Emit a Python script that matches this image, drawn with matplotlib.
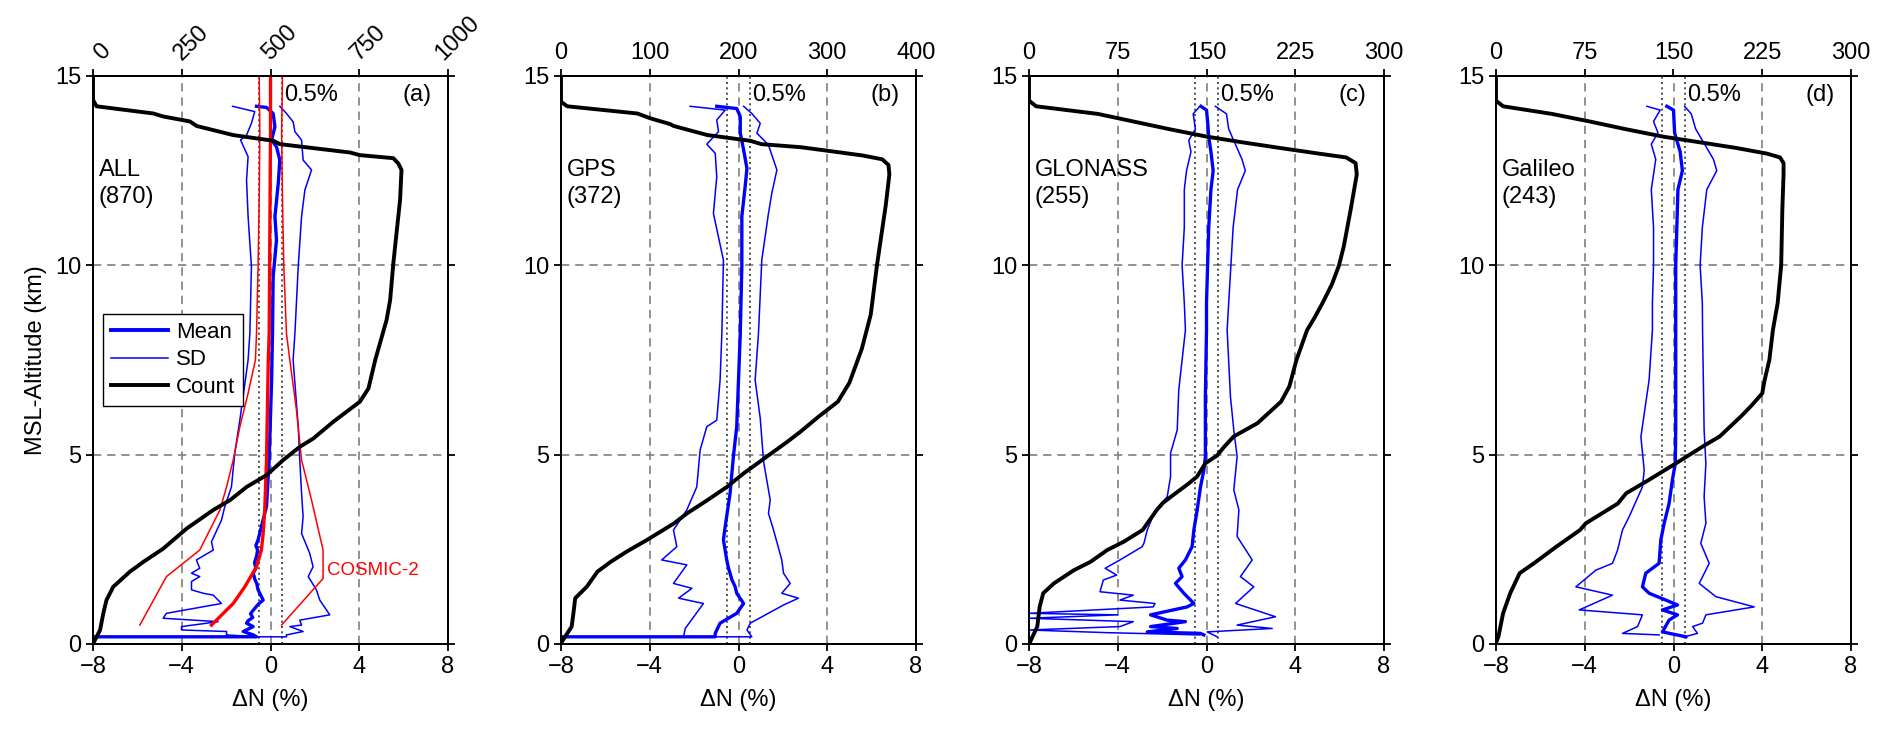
import numpy as np
import matplotlib
matplotlib.use('Agg')
import matplotlib.pyplot as plt
from matplotlib.lines import Line2D
from matplotlib.transforms import ScaledTranslation

plt.rcParams['font.family'] = ['Liberation Sans', 'DejaVu Sans']

# Perfiles: pares (altitud km, valor)
# valor = dN (%) para Mean/SD/COSMIC-2, numero de perfiles para Count

a_count = [(15, 0), (14.37, 0), (14.2, 10), (14.01, 170), (13.93, 198), (13.8, 273), (13.68, 292),
           (13.44, 395), (13.29, 508), (13.2, 527), (12.98, 724), (12.91, 752), (12.83, 846),
           (12.69, 860), (12.52, 869), (11.73, 865), (10.85, 855), (10.05, 846), (9.08, 837),
           (8.56, 827), (7.5, 795), (6.75, 776), (6.40, 752), (5.87, 677), (5.43, 621), (5.21, 583),
           (4.86, 536), (4.46, 489), (4.15, 433), (3.80, 386), (3.54, 339), (3.05, 264), (2.52, 198),
           (2.17, 142), (1.91, 104), (1.51, 57), (1.16, 38), (0.81, 29), (0.37, 20), (0.06, 3)]
a_mean = [(14.2, -0.63), (14.17, -0.18), (14.01, 0.12), (13.66, 0.2), (13.31, 0.05), (13.13, 0.27),
          (12.78, 0.42), (12.17, 0.35), (11.29, 0.2), (10.67, 0.27), (9.70, 0.12), (8.2, 0.09),
          (6.97, 0.05), (4.86, -0.06), (3.63, -0.18), (3.10, -0.41), (2.75, -0.56), (2.6, -0.66),
          (2.48, -0.58), (2.31, -0.63), (2.15, -0.72), (2.0, -0.66), (1.87, -0.78), (1.7, -0.7),
          (1.6, -0.62), (1.43, -0.56), (1.3, -0.45), (1.16, -0.33), (1.05, -0.55), (0.94, -0.71),
          (0.8, -0.9), (0.7, -0.8), (0.62, -1.0), (0.55, -1.08), (0.46, -0.78), (0.33, -1.23),
          (0.24, -0.78), (0.19, -0.63), (0.19, -8.0)]
a_sd_lo = [(14.2, -1.71), (14.06, -0.71), (13.75, -0.86), (13.44, -1.08), (13.31, -1.35), (12.87, -1.01),
           (12.25, -1.08), (11.29, -1.01), (9.97, -0.86), (8.2, -0.93), (7.5, -1.01), (5.92, -1.38),
           (5.04, -1.61), (4.15, -1.76), (3.63, -2.06), (3.27, -2.21), (2.70, -2.66), (2.48, -2.58),
           (2.22, -3.34), (2.0, -3.19), (1.87, -3.56), (1.78, -3.19), (1.65, -3.56), (1.43, -3.56),
           (1.34, -3.03), (1.29, -2.58), (1.07, -2.21), (0.81, -4.69), (0.68, -4.84), (0.59, -2.36),
           (0.46, -4.01), (0.37, -4.01), (0.33, -1.98), (0.24, -1.98), (0.19, -0.6), (0.19, -8.0)]
a_sd_hi = [(14.2, 0.42), (14.01, 0.72), (13.79, 1.02), (13.53, 1.1), (13.31, 1.4), (12.78, 1.47),
           (12.52, 1.85), (11.99, 1.55), (11.29, 1.4), (9.97, 1.25), (8.2, 1.1), (7.5, 1.02),
           (5.74, 1.25), (4.86, 1.32), (3.98, 1.4), (3.36, 1.47), (2.92, 1.4), (2.39, 1.77),
           (2.04, 1.92), (1.78, 1.70), (1.43, 2.07), (1.16, 2.22), (0.77, 2.67), (0.63, 1.32),
           (0.50, 1.40), (0.46, 0.87), (0.33, 1.47), (0.24, 0.72), (0.19, 0.72), (0.19, -8.0)]
a_c2_mean = [(15, 0.0), (13.49, 0.0), (8.2, -0.06), (7.5, -0.1), (4.86, -0.18), (3.54, -0.26),
             (2.92, -0.33), (2.48, -0.41), (2.04, -0.63), (1.51, -1.16), (1.07, -1.68), (0.50, -2.66)]
a_c2_lo = [(15, -0.51), (13.49, -0.48), (11.73, -0.51), (9.97, -0.56), (8.2, -0.63), (7.5, -0.68),
           (6.62, -1.01), (5.74, -1.38), (4.86, -1.68), (4.15, -1.98), (3.54, -2.28), (2.48, -3.19),
           (1.78, -4.69), (0.50, -5.89)]
a_c2_hi = [(15, 0.54), (13.49, 0.5), (11.73, 0.54), (9.97, 0.6), (8.2, 0.72), (7.5, 0.87),
           (6.18, 1.17), (4.86, 1.4), (3.80, 1.85), (2.48, 2.37), (1.73, 2.37), (0.50, 0.5)]

b_count = [(15, 0), (14.32, 0), (14.2, 7), (14.01, 86), (13.88, 101), (13.73, 123), (13.68, 127),
           (13.44, 165), (13.29, 213), (13.2, 226), (13.12, 270), (12.98, 315), (12.9, 340),
           (12.8, 362), (12.65, 369), (12.4, 370), (11.6, 366), (10.0, 356), (8.7, 349), (7.8, 339),
           (6.9, 325), (6.4, 312), (6.0, 290), (5.61, 270), (5.34, 255), (4.95, 232), (4.51, 206),
           (4.15, 187), (3.80, 165), (3.45, 142), (3.18, 127), (2.75, 97), (2.44, 74), (2.17, 56),
           (1.91, 41), (1.51, 29), (1.21, 16), (0.81, 14), (0.46, 12), (0.06, 1)]
b_mean = [(14.2, -0.98), (14.14, -0.08), (13.93, 0.08), (13.49, 0.08), (13.05, 0.23), (12.56, 0.38),
          (12.08, 0.30), (11.29, 0.15), (9.97, 0.15), (8.2, 0.08), (6.97, 0.0), (5.74, -0.08),
          (4.95, -0.23), (3.98, -0.38), (3.10, -0.60), (2.75, -0.68), (2.22, -0.53), (2.0, -0.45),
          (1.87, -0.38), (1.7, -0.3), (1.6, -0.22), (1.51, -0.15), (1.34, -0.08), (1.07, 0.23),
          (0.81, -0.08), (0.55, -0.83), (0.28, -1.05), (0.19, -1.05), (0.19, -8.0)]
b_sd_lo = [(14.2, -2.18), (14.1, -0.6), (13.84, -0.98), (13.53, -0.9), (13.2, -1.43), (12.96, -1.05),
           (12.34, -0.98), (11.37, -1.13), (10.14, -0.68), (8.2, -0.75), (6.97, -0.83), (5.91, -0.98),
           (5.74, -1.43), (5.12, -1.73), (4.15, -1.88), (3.54, -2.33), (3.01, -2.93), (2.57, -2.78),
           (2.22, -3.46), (2.09, -2.33), (1.60, -2.93), (1.47, -2.10), (1.21, -2.70), (1.07, -1.58),
           (0.41, -2.40), (0.19, -2.48), (0.19, -8.0)]
b_sd_hi = [(14.2, 0.23), (14.01, 0.6), (13.75, 0.98), (13.49, 0.83), (13.18, 1.35), (12.52, 1.73),
           (11.9, 1.5), (11.37, 1.35), (10.14, 1.05), (8.2, 0.9), (6.97, 0.75), (5.96, 0.98),
           (4.82, 1.13), (3.80, 1.43), (3.45, 1.35), (3.01, 1.58), (2.22, 1.95), (1.87, 2.03),
           (1.60, 2.33), (1.34, 1.95), (1.21, 2.70), (1.03, 2.03), (0.55, 0.53), (0.37, 0.38),
           (0.19, 0.60), (0.19, -8.0)]

c_count = [(15, 0), (14.35, 0), (14.2, 6), (14.0, 58), (13.8, 88), (13.6, 118), (13.4, 150),
           (13.25, 180), (13.1, 212), (12.95, 245), (12.85, 268), (12.7, 276), (12.4, 277),
           (11.5, 272), (10.5, 266), (10.0, 262), (9.5, 256), (9.0, 248), (8.6, 241), (8.29, 235),
           (7.5, 226), (6.80, 220), (6.40, 213),
           (5.83, 193), (5.48, 173), (5.21, 165), (4.98, 159), (4.77, 149), (4.42, 142), (4.24, 135),
           (3.89, 120), (3.72, 113), (3.54, 108), (3.01, 96), (2.70, 80), (2.48, 66), (2.17, 52),
           (1.95, 38), (1.60, 21), (1.34, 12), (0.98, 9), (0.46, 7), (0.06, 1)]
c_mean = [(14.2, -0.25), (14.1, 0.0), (13.8, 0.05), (13.4, 0.1), (13.0, 0.2), (12.5, 0.3), (12.0, 0.2),
          (11.0, 0.1), (10.0, 0.05), (9.0, 0.0), (8.29, 0.0), (6.53, -0.05), (4.95, -0.05),
          (4.59, -0.12), (4.15, -0.27), (3.54, -0.42), (3.01, -0.57), (2.57, -0.65), (2.22, -0.95),
          (2.00, -1.25), (1.78, -1.10), (1.60, -1.40), (1.34, -1.02), (1.16, -0.72), (1.07, -0.57),
          (0.98, -0.87), (0.77, -2.52), (0.63, -1.77), (0.59, -0.95), (0.46, -2.52), (0.41, -1.32),
          (0.32, -2.67), (0.28, -0.27), (0.24, -0.12)]
c_sd_lo = [(14.2, -0.3), (14.0, -0.6), (13.6, -0.5), (13.3, -0.8), (13.0, -0.7), (12.5, -0.9),
           (12.0, -1.0), (11.0, -1.0), (10.0, -1.1), (9.0, -1.0), (8.29, -0.95), (6.71, -1.25),
           (5.65, -1.32), (5.04, -1.62), (4.42, -1.62), (3.89, -1.77), (3.54, -2.30), (3.01, -2.67),
           (2.66, -2.82), (2.57, -2.9), (2.22, -3.9), (2.0, -4.57), (1.82, -4.05), (1.69, -4.65),
           (1.38, -4.80), (1.29, -3.30), (1.16, -3.90), (1.07, -2.32), (0.98, -2.4), (0.81, -8.0),
           (0.77, -4.0), (0.68, -8.0), (0.59, -3.3), (0.46, -3.9), (0.37, -8.0), (0.30, -4.5),
           (0.24, -0.3)]
c_sd_hi = [(14.2, 0.4), (14.0, 0.9), (13.6, 1.0), (13.2, 1.3), (12.8, 1.6), (12.5, 1.75), (12.0, 1.4),
           (11.0, 1.2), (10.0, 1.1), (9.0, 1.0), (8.29, 0.93), (6.53, 1.08), (5.65, 1.23), (4.95, 1.38),
           (4.07, 1.23), (3.54, 1.46), (2.84, 1.38), (2.22, 2.06), (1.78, 1.53), (1.51, 2.13),
           (1.07, 1.31), (0.72, 3.11), (0.5, 1.38), (0.41, 2.96), (0.32, 0.03), (0.19, 0.48)]

d_count = [(15, 0), (14.35, 0), (14.2, 6), (14.0, 47), (13.8, 79), (13.6, 109), (13.4, 141),
           (13.25, 172), (13.1, 203), (12.95, 229), (12.85, 240), (12.7, 243), (12.4, 243),
           (11.5, 242), (10.0, 241), (9.0, 238), (8.29, 234), (7.5, 231), (6.97, 227), (6.62, 225),
           (6.30, 216), (6.01, 207), (5.48, 189), (5.26, 177), (4.77, 152), (4.33, 129), (3.98, 110),
           (3.71, 103), (3.19, 76), (3.01, 71), (2.57, 51), (2.13, 32), (1.87, 20), (1.34, 12),
           (0.81, 6), (0.19, 2), (0.03, 0)]
d_mean = [(14.2, -0.3), (14.1, 0.0), (13.5, 0.05), (13.0, 0.3), (12.5, 0.4), (12.0, 0.2), (11.0, 0.15),
          (10.0, 0.1), (8.29, 0.1), (5.65, 0.1), (4.77, 0.08), (4.33, -0.05), (3.71, -0.2),
          (3.19, -0.42), (2.75, -0.57), (2.13, -0.65), (1.87, -1.25), (1.51, -1.40), (1.34, -1.10),
          (1.16, -0.35), (1.03, 0.18), (0.90, -0.50), (0.77, 0.18), (0.63, -0.2), (0.32, -0.5),
          (0.19, 0.56)]
d_sd_lo = [(14.2, -1.2), (14.1, -0.6), (13.8, -0.9), (13.5, -0.7), (13.2, -1.0), (12.8, -0.8),
           (12.0, -1.0), (11.0, -0.9), (10.0, -0.9), (9.0, -0.95), (8.29, -0.95), (6.97, -1.10),
           (5.47, -1.47), (4.59, -1.32), (4.15, -1.40), (3.36, -2.0), (3.01, -2.30), (2.48, -2.52),
           (2.13, -2.75), (1.95, -3.50), (1.51, -4.40), (1.29, -2.75), (0.90, -4.25), (0.77, -1.40),
           (0.46, -1.62), (0.28, -2.30), (0.24, -0.65)]
d_sd_hi = [(14.2, 0.5), (14.0, 0.8), (13.6, 1.0), (13.2, 1.4), (12.8, 1.8), (12.5, 1.95), (12.0, 1.5),
           (11.0, 1.3), (10.0, 1.2), (9.0, 1.3), (8.29, 1.31), (5.65, 1.38), (4.77, 1.46), (3.89, 1.38),
           (3.19, 1.46), (2.66, 1.23), (2.13, 1.61), (1.60, 1.16), (1.25, 1.91), (0.98, 3.64),
           (0.77, 1.46), (0.55, 1.31), (0.46, 0.86), (0.28, 1.08), (0.21, 0.63)]

panel_tags = ['(a)', '(b)', '(c)', '(d)']
panel_names = ['ALL', 'GPS', 'GLONASS', 'Galileo']
panel_n = [870, 372, 255, 243]
count_max = [1000, 400, 300, 300]
count_step = [250, 100, 75, 75]

FS = 17
W, H = 1892, 742


def perfil(puntos):
    arr = np.array(puntos, dtype=float)
    return arr[:, 1], arr[:, 0]


def dibujar_panel(fig, left_px, i, count, mean, sd_lo, sd_hi):
    ax = fig.add_axes([left_px / W, 98 / H, 355 / W, 568 / H])
    ax.set_xlim(-8, 8)
    ax.set_ylim(0, 15)

    for gx in (-4, 0, 4):
        ax.axvline(gx, color='#7f7f7f', lw=1.2, dashes=(5, 3.5), zorder=1)
    for gy in (5, 10):
        ax.axhline(gy, color='#7f7f7f', lw=1.2, dashes=(5, 3.5), zorder=1)
    for dx in (-0.5, 0.5):
        ax.axvline(dx, color='#333333', lw=1.2, dashes=(1.2, 2.0), zorder=1)

    x, y = perfil(sd_lo)
    ax.plot(x, y, color='#0000ff', lw=1.1, zorder=3)
    x, y = perfil(sd_hi)
    ax.plot(x, y, color='#0000ff', lw=1.1, zorder=3)
    x, y = perfil(mean)
    ax.plot(x, y, color='#0000ff', lw=2.4, zorder=4)

    ax.set_xticks([-8, -4, 0, 4, 8])
    ax.set_yticks([0, 5, 10, 15])
    ax.tick_params(direction='out', length=5, width=1.3, labelsize=FS, top=False,
                   right=True, labelright=False)
    for s in ax.spines.values():
        s.set_linewidth(1.4)
    ax.set_xlabel('ΔN (%)', fontsize=FS, labelpad=8)

    ax.text(0.6, 14.5, '0.5%', fontsize=FS, ha='left', va='center')
    ax.text(5.95, 14.5, panel_tags[i], fontsize=FS, ha='left', va='center')
    ax.text(-7.75, 12.8, f'{panel_names[i]}\n({panel_n[i]})', fontsize=FS,
            ha='left', va='top', linespacing=1.25)

    ax2 = ax.twiny()
    ax2.set_xlim(0, count_max[i])
    ax2.set_xticks(np.arange(0, count_max[i] + 1, count_step[i]))
    ax2.tick_params(direction='out', length=5, width=1.3, labelsize=FS)
    for s in ax2.spines.values():
        s.set_linewidth(1.4)
    x, y = perfil(count)
    ax2.plot(x, y, color='black', lw=2.8, zorder=5)
    if i == 0:
        offset = ScaledTranslation(7 / 72, 0, fig.dpi_scale_trans)
        for lbl in ax2.get_xticklabels():
            lbl.set_rotation(45)
            lbl.set_ha('center')
            lbl.set_transform(lbl.get_transform() + offset)
    return ax, ax2


def main():
    fig = plt.figure(figsize=(W / 100, H / 100), dpi=100)
    lefts = [93, 561, 1029, 1496]
    datos = [(a_count, a_mean, a_sd_lo, a_sd_hi),
             (b_count, b_mean, b_sd_lo, b_sd_hi),
             (c_count, c_mean, c_sd_lo, c_sd_hi),
             (d_count, d_mean, d_sd_lo, d_sd_hi)]
    ejes = []
    for i, (cnt, mn, lo, hi) in enumerate(datos):
        ejes.append(dibujar_panel(fig, lefts[i], i, cnt, mn, lo, hi))

    ax = ejes[0][0]
    # COSMIC-2 en el panel (a)
    for serie, lw in ((a_c2_lo, 1.1), (a_c2_hi, 1.1), (a_c2_mean, 2.4)):
        x, y = perfil(serie)
        ax.plot(x, y, color='#ff0000', lw=lw, zorder=4.5)
    ax.text(2.55, 1.95, 'COSMIC-2', color='#ff0000', fontsize=13.5, ha='left', va='center')
    ax.set_ylabel('MSL-Altitude (km)', fontsize=FS, labelpad=6)

    handles = [Line2D([], [], color='#0000ff', lw=2.8),
               Line2D([], [], color='#0000ff', lw=1.1),
               Line2D([], [], color='black', lw=2.8)]
    leg = ejes[0][1].legend(handles, ['Mean', 'SD', 'Count'], loc='upper left',
                            bbox_to_anchor=(0.028, 0.581), borderaxespad=0, fontsize=16,
                            frameon=True, fancybox=False, edgecolor='black', framealpha=1,
                            handlelength=2.6, handletextpad=0.35, labelspacing=0.3,
                            borderpad=0.35)
    leg.get_frame().set_linewidth(1.0)

    fig.savefig('out.png', dpi=100)
    plt.close(fig)


if __name__ == '__main__':
    main()
